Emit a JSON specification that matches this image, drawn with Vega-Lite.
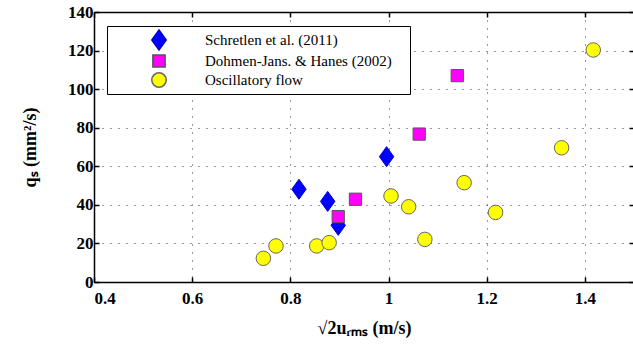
{
  "$schema": "https://vega.github.io/schema/vega-lite/v6.json",
  "width": 540,
  "height": 270,
  "autosize": {"type": "none"},
  "padding": {"left": 94, "top": 12, "right": 0, "bottom": 62},
  "background": "white",
  "config": {
    "view": {"stroke": null},
    "font": "Liberation Serif",
    "axis": {"labelFont": "Liberation Serif", "titleFont": "Liberation Serif"}
  },
  "data": {
    "values": [
      {"series": "Schretlen et al. (2011)", "u": 0.8175, "q": 48.1},
      {"series": "Schretlen et al. (2011)", "u": 0.876, "q": 41.8},
      {"series": "Schretlen et al. (2011)", "u": 0.8975, "q": 29.4},
      {"series": "Schretlen et al. (2011)", "u": 0.996, "q": 65.0},
      {"series": "Dohmen-Jans. & Hanes (2002)", "u": 0.8975, "q": 33.9},
      {"series": "Dohmen-Jans. & Hanes (2002)", "u": 0.9326, "q": 42.9},
      {"series": "Dohmen-Jans. & Hanes (2002)", "u": 1.0625, "q": 76.7},
      {"series": "Dohmen-Jans. & Hanes (2002)", "u": 1.14, "q": 107.0},
      {"series": "Oscillatory flow", "u": 0.745, "q": 12.3},
      {"series": "Oscillatory flow", "u": 0.7707, "q": 18.7},
      {"series": "Oscillatory flow", "u": 0.8536, "q": 18.7},
      {"series": "Oscillatory flow", "u": 0.879, "q": 20.4},
      {"series": "Oscillatory flow", "u": 1.005, "q": 44.6},
      {"series": "Oscillatory flow", "u": 1.041, "q": 39.0},
      {"series": "Oscillatory flow", "u": 1.074, "q": 22.1},
      {"series": "Oscillatory flow", "u": 1.154, "q": 51.5},
      {"series": "Oscillatory flow", "u": 1.218, "q": 36.1},
      {"series": "Oscillatory flow", "u": 1.3525, "q": 69.6},
      {"series": "Oscillatory flow", "u": 1.417, "q": 120.3}
    ]
  },
  "resolve": {"axis": {"x": "independent", "y": "independent"}},
  "layer": [
    {
      "mark": {"type": "point", "filled": true, "opacity": 1, "strokeWidth": 1},
      "encoding": {
        "x": {
          "field": "u", "type": "quantitative",
          "scale": {"domain": [0.4, 1.5], "nice": false, "zero": false},
          "axis": {
            "orient": "bottom",
            "values": [0.4, 0.6, 0.8, 1.0, 1.2, 1.4],
            "format": "~g",
            "title": "√2uᵣₘₛ (m/s)",
            "titleFont": "Liberation Serif", "titleFontSize": 18, "titleFontWeight": "bold", "titleColor": "black",
            "titlePadding": 13,
            "labelFont": "Liberation Serif", "labelFontSize": 17, "labelFontWeight": "bold", "labelColor": "black",
            "labelPadding": 13,
            "tickSize": -5, "tickColor": "black", "tickWidth": 1.5,
            "domainColor": "black", "domainWidth": 1.5,
            "grid": true, "gridColor": "black", "gridDash": [1, 7], "gridWidth": 1, "gridOpacity": 0.8
          }
        },
        "y": {
          "field": "q", "type": "quantitative",
          "scale": {"domain": [0, 140], "nice": false},
          "axis": {
            "orient": "left",
            "values": [0, 20, 40, 60, 80, 100, 120, 140],
            "title": "qₛ (mm²/s)",
            "titleFont": "Liberation Serif", "titleFontSize": 18, "titleFontWeight": "bold", "titleColor": "black",
            "titlePadding": 28,
            "labelFont": "Liberation Serif", "labelFontSize": 17, "labelFontWeight": "bold", "labelColor": "black",
            "labelPadding": 6,
            "tickSize": -5, "tickColor": "black", "tickWidth": 1.5,
            "domainColor": "black", "domainWidth": 1.5,
            "grid": true, "gridColor": "black", "gridDash": [1, 7], "gridWidth": 1, "gridOpacity": 0.8
          }
        },
        "shape": {
          "field": "series", "type": "nominal",
          "scale": {
            "domain": ["Schretlen et al. (2011)", "Dohmen-Jans. & Hanes (2002)", "Oscillatory flow"],
            "range": ["M0,-1L0.72,0L0,1L-0.72,0Z", "square", "circle"]
          }
        },
        "color": {
          "field": "series", "type": "nominal",
          "scale": {
            "domain": ["Schretlen et al. (2011)", "Dohmen-Jans. & Hanes (2002)", "Oscillatory flow"],
            "range": ["#0000ff", "#ff00ff", "#ffff00"]
          },
          "legend": {
            "orient": "none", "legendX": 13, "legendY": 14,
            "title": null,
            "direction": "vertical",
            "strokeColor": "black", "fillColor": "white",
            "padding": 3,
            "symbolOffset": 38,
            "labelOffset": 35,
            "rowPadding": -1.5,
            "labelLimit": 500,
            "labelFont": "Liberation Serif", "labelFontSize": 15, "labelColor": "black",
            "labelExpr": "datum.label + '\u00a0\u00a0\u00a0\u00a0\u200b'"
          }
        },
        "stroke": {
          "field": "series", "type": "nominal",
          "scale": {
            "domain": ["Schretlen et al. (2011)", "Dohmen-Jans. & Hanes (2002)", "Oscillatory flow"],
            "range": ["#0000cc", "#555555", "#666666"]
          },
          "legend": null
        },
        "size": {
          "field": "series", "type": "nominal",
          "scale": {
            "type": "ordinal",
            "domain": ["Schretlen et al. (2011)", "Dohmen-Jans. & Hanes (2002)", "Oscillatory flow"],
            "range": [400, 150, 210]
          },
          "legend": null
        }
      }
    },
    {
      "mark": {"type": "point", "opacity": 0},
      "encoding": {
        "x": {
          "field": "u", "type": "quantitative",
          "axis": {
            "orient": "top", "title": null, "labels": false, "grid": false,
            "values": [0.4, 0.6, 0.8, 1.0, 1.2, 1.4],
            "tickSize": -5, "tickColor": "black", "tickWidth": 1.5,
            "domainColor": "black", "domainWidth": 1.5
          }
        },
        "y": {
          "field": "q", "type": "quantitative",
          "axis": {
            "orient": "right", "title": null, "labels": false, "grid": false,
            "values": [0, 20, 40, 60, 80, 100, 120, 140],
            "tickSize": -5, "tickColor": "black", "tickWidth": 1.5,
            "domainColor": "black", "domainWidth": 1.5
          }
        }
      }
    }
  ]
}
